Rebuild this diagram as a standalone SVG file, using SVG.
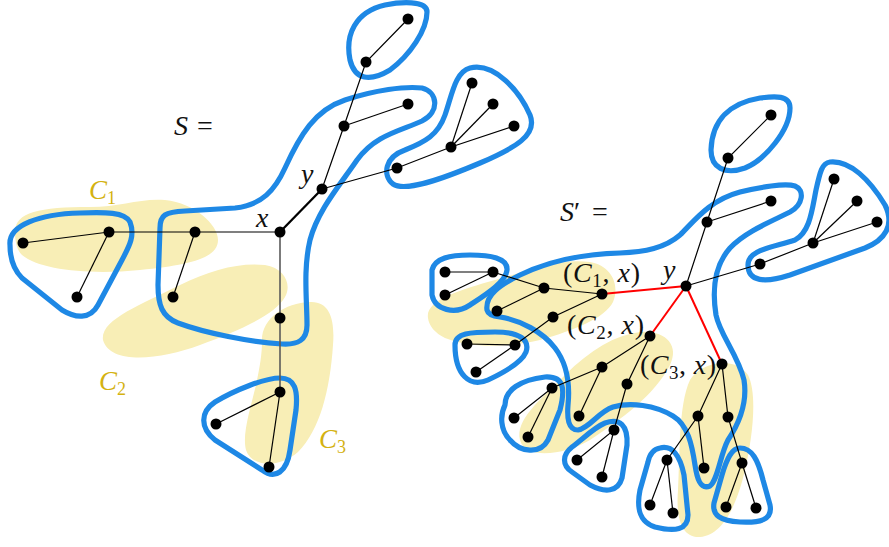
<svg xmlns="http://www.w3.org/2000/svg" width="889" height="547" viewBox="0 0 889 547">
<style>
.blob{fill:#f8eeb6;stroke:none}
.bag{fill:none;stroke:#1e88e5;stroke-width:5.2;stroke-linejoin:round}
.e{stroke:#000;stroke-width:1.2;fill:none}
.g{stroke:#5a5a5a;stroke-width:1.6;fill:none}
.t{stroke:#000;stroke-width:2.3;fill:none}
.r{stroke:#ff0000;stroke-width:2;fill:none}
.n{fill:#000}
.lab{font-family:"Liberation Serif",serif;font-size:28px;fill:#111}
.gold{font-family:"Liberation Serif",serif;font-size:27px;fill:#d4b210;font-style:italic}
</style>
<g id="blobs">
<path class="blob" d="M 15,232 C 15,212 40,207 90,207 C 120,207 140,198 165,200 C 195,203 218,225 218,240 C 218,258 190,265 140,270 C 90,275 40,270 22,255 C 17,250 15,242 15,232 Z"/>
<path class="blob" d="M 103,340 C 100,320 140,305 180,285 C 210,270 240,262 265,265 C 285,268 292,285 285,297 C 275,315 240,330 200,345 C 160,360 110,365 103,340 Z"/>
<path class="blob" d="M 262,340 C 262,318 285,303 310,302 C 330,301 335,320 333,345 C 330,390 320,430 298,452 C 280,468 252,468 246,450 C 242,435 250,410 256,385 C 260,365 262,355 262,340 Z"/>
<path class="blob" d="M 428,318 C 425,300 460,290 495,280 C 530,270 560,258 590,262 C 612,266 620,285 613,302 C 605,318 575,330 540,340 C 505,348 470,348 445,338 C 435,333 429,326 428,318 Z"/>
<path class="blob" d="M 520,440 C 515,420 540,400 565,375 C 590,350 615,335 640,332 C 665,330 680,345 670,365 C 655,395 620,420 590,440 C 565,455 525,460 520,440 Z"/>
<path class="blob" d="M 690,380 C 700,362 735,355 748,375 C 758,395 752,440 745,470 C 738,500 725,535 700,537 C 680,538 676,515 678,490 C 680,460 678,405 690,380 Z"/>
</g>
<g id="bags">
<path id="bagS1" class="bag" d="M 10,245 C 8,225 40,214 80,213 C 105,212 125,212 130,222 C 135,235 130,245 122,260 L 98,305 C 90,320 75,318 62,310 L 22,278 C 12,268 10,255 10,245 Z"/>
<path id="bagS2" class="bag" d="M 160,228 C 160,215 165,212 185,211 L 235,208 C 262,205 275,190 285,168 C 300,135 315,110 345,100 C 375,90 405,86 422,88 C 438,92 440,112 422,121 C 400,131 375,135 357,160 C 340,185 318,210 310,240 C 303,270 307,300 307,325 C 307,340 298,345 282,344 C 250,342 205,333 178,323 C 162,317 158,305 158,285 Z"/>
<path id="bagS3" class="bag" d="M 427,12 C 427,0 400,2 385,5 C 355,12 345,35 350,60 C 355,80 370,82 390,70 C 410,55 427,30 427,12 Z"/>
<path id="bagS4" class="bag" d="M 470,68 C 455,72 452,95 445,115 C 438,135 425,142 405,150 C 385,157 382,175 393,184 C 405,192 440,180 480,163 C 515,148 538,135 530,115 C 520,92 495,62 470,68 Z"/>
<path id="bagS5" class="bag" d="M 280,378 C 295,378 298,390 296,410 L 290,450 C 287,472 275,480 262,470 L 215,440 C 200,428 200,412 215,402 C 235,390 265,378 280,378 Z"/>
<path id="bagP1" class="bag" d="M 790,108 C 790,95 775,96 760,98 C 730,103 712,120 711,150 C 711,168 725,175 745,168 C 765,160 790,130 790,108 Z"/>
<path id="bagP2" class="bag" d="M 487,310 C 485,295 500,285 520,275 C 545,263 580,254 620,253 C 645,252 665,248 680,235 C 695,220 710,200 740,192 C 760,187 785,183 795,186 C 805,190 803,205 790,212 C 770,222 745,232 730,248 C 715,265 712,290 716,315 C 720,335 738,355 744,380 C 748,405 738,425 728,440 C 720,455 718,480 710,486 C 700,490 697,478 695,465 C 692,445 688,425 673,416 C 655,405 630,402 613,407 C 598,412 590,428 578,430 C 568,430 567,418 568,405 C 570,385 568,365 555,348 C 543,332 520,320 500,317 C 492,316 488,314 487,310 Z"/>
<path id="bagP3" class="bag" d="M 432,270 C 435,258 450,255 470,255 C 490,255 508,258 507,270 C 506,282 485,295 470,305 C 455,315 435,310 432,295 Z"/>
<path id="bagP4" class="bag" d="M 455,345 C 455,333 470,332 495,332 C 520,332 530,340 526,352 C 522,362 505,372 488,380 C 470,388 455,375 455,345 Z"/>
<path id="bagP5" class="bag" d="M 505,405 C 505,390 520,380 545,377 C 565,376 565,390 560,410 L 548,440 C 540,455 520,452 510,440 C 500,430 500,415 505,405 Z"/>
<path id="bagP6" class="bag" d="M 605,423 C 620,418 628,425 627,445 L 622,478 C 618,492 605,493 590,485 L 572,472 C 562,465 562,455 572,447 C 585,437 595,427 605,423 Z"/>
<path id="bagP7" class="bag" d="M 660,448 C 672,445 680,455 684,475 L 688,515 C 688,530 675,532 655,527 C 640,522 636,510 640,490 L 648,462 C 650,452 655,449 660,448 Z"/>
<path id="bagP8" class="bag" d="M 740,448 C 752,448 758,460 763,480 L 770,505 C 773,520 760,523 740,522 C 720,521 712,515 714,503 L 722,475 C 727,458 732,448 740,448 Z"/>
<path id="bagP9" class="bag" d="M 830,162 C 850,160 870,180 885,205 C 895,225 885,240 865,248 L 790,275 C 765,283 748,282 748,265 C 748,250 770,248 795,240 C 810,232 812,210 816,190 C 820,172 822,163 830,162 Z"/>
</g>
<g id="connectors">
<polyline class="e" points="23,243 109,232 280,232"/>
<line class="e" x1="109" y1="232" x2="77" y2="297"/>
<line class="e" x1="195" y1="232" x2="173" y2="297"/>
<polyline class="g" points="280,232 280,318 280,392"/>
<line class="e" x1="280" y1="392" x2="216" y2="424"/>
<line class="e" x1="280" y1="392" x2="269" y2="467"/>
<line class="t" x1="280" y1="232" x2="322" y2="189"/>
<polyline class="e" points="322,189 344,126 366,62 408,19"/>
<line class="e" x1="344" y1="126" x2="408" y2="104"/>
<polyline class="e" points="322,189 397,168 451,147 514,126"/>
<line class="e" x1="451" y1="147" x2="472" y2="83"/>
<line class="e" x1="451" y1="147" x2="493" y2="104"/>
<polyline class="e" points="686,286 707,222 728,158 771,115"/>
<line class="e" x1="707" y1="222" x2="771" y2="201"/>
<polyline class="e" points="686,286 760,264 813,243 877,222"/>
<line class="e" x1="813" y1="243" x2="834" y2="179"/>
<line class="e" x1="813" y1="243" x2="857" y2="201"/>
<line class="r" x1="686" y1="286" x2="602" y2="294"/>
<line class="r" x1="686" y1="286" x2="650" y2="336"/>
<line class="r" x1="686" y1="286" x2="722" y2="364"/>
<polyline class="e" points="602,294 544,288 493,272 445,272"/>
<line class="e" x1="493" y1="272" x2="445" y2="295"/>
<line class="e" x1="544" y1="288" x2="497" y2="311"/>
<polyline class="e" points="602,294 553,317 515,345 467,344"/>
<line class="e" x1="515" y1="345" x2="476" y2="372"/>
<polyline class="e" points="650,336 602,367 552,388 514,418"/>
<line class="e" x1="552" y1="388" x2="528" y2="437"/>
<line class="e" x1="602" y1="367" x2="579" y2="416"/>
<polyline class="e" points="650,336 627,384 614,430 577,460"/>
<line class="e" x1="614" y1="430" x2="602" y2="477"/>
<polyline class="e" points="722,364 698,416 667,460 650,505"/>
<line class="e" x1="667" y1="460" x2="673" y2="513"/>
<line class="e" x1="698" y1="416" x2="704" y2="468"/>
<polyline class="e" points="722,364 728,417 742,463 726,507"/>
<line class="e" x1="742" y1="463" x2="756" y2="508"/>
</g>
<g id="nodes">
<circle class="n" cx="23" cy="243" r="5.5"/><circle class="n" cx="109" cy="232" r="5.5"/><circle class="n" cx="77" cy="297" r="5.5"/>
<circle class="n" cx="195" cy="232" r="5.5"/><circle class="n" cx="173" cy="297" r="5.5"/>
<circle id="x" class="n" cx="280" cy="232" r="5.5"/><circle class="n" cx="280" cy="318" r="5.5"/><circle class="n" cx="280" cy="392" r="5.5"/>
<circle class="n" cx="216" cy="424" r="5.5"/><circle class="n" cx="269" cy="467" r="5.5"/>
<circle id="y" class="n" cx="322" cy="189" r="5.5"/><circle class="n" cx="344" cy="126" r="5.5"/><circle class="n" cx="408" cy="104" r="5.5"/>
<circle class="n" cx="366" cy="62" r="5.5"/><circle class="n" cx="408" cy="19" r="5.5"/>
<circle class="n" cx="397" cy="168" r="5.5"/><circle class="n" cx="451" cy="147" r="5.5"/><circle class="n" cx="472" cy="83" r="5.5"/>
<circle class="n" cx="493" cy="104" r="5.5"/><circle class="n" cx="514" cy="126" r="5.5"/>
<circle id="y2" class="n" cx="686" cy="286" r="5.5"/><circle class="n" cx="707" cy="222" r="5.5"/><circle class="n" cx="728" cy="158" r="5.5"/>
<circle class="n" cx="771" cy="115" r="5.5"/><circle class="n" cx="771" cy="201" r="5.5"/><circle class="n" cx="760" cy="264" r="5.5"/>
<circle class="n" cx="813" cy="243" r="5.5"/><circle class="n" cx="834" cy="179" r="5.5"/><circle class="n" cx="857" cy="201" r="5.5"/><circle class="n" cx="877" cy="222" r="5.5"/>
<circle class="n" cx="602" cy="294" r="5.5"/><circle class="n" cx="544" cy="288" r="5.5"/><circle class="n" cx="493" cy="272" r="5.5"/>
<circle class="n" cx="445" cy="272" r="5.5"/><circle class="n" cx="445" cy="295" r="5.5"/><circle class="n" cx="497" cy="311" r="5.5"/>
<circle class="n" cx="553" cy="317" r="5.5"/><circle class="n" cx="515" cy="345" r="5.5"/><circle class="n" cx="467" cy="344" r="5.5"/><circle class="n" cx="476" cy="372" r="5.5"/>
<circle class="n" cx="650" cy="336" r="5.5"/><circle class="n" cx="602" cy="367" r="5.5"/><circle class="n" cx="552" cy="388" r="5.5"/>
<circle class="n" cx="514" cy="418" r="5.5"/><circle class="n" cx="528" cy="437" r="5.5"/><circle class="n" cx="579" cy="416" r="5.5"/>
<circle class="n" cx="627" cy="384" r="5.5"/><circle class="n" cx="614" cy="430" r="5.5"/><circle class="n" cx="577" cy="460" r="5.5"/><circle class="n" cx="602" cy="477" r="5.5"/>
<circle class="n" cx="722" cy="364" r="5.5"/><circle class="n" cx="698" cy="416" r="5.5"/><circle class="n" cx="667" cy="460" r="5.5"/>
<circle class="n" cx="650" cy="505" r="5.5"/><circle class="n" cx="673" cy="513" r="5.5"/><circle class="n" cx="704" cy="468" r="5.5"/>
<circle class="n" cx="728" cy="417" r="5.5"/><circle class="n" cx="742" cy="463" r="5.5"/><circle class="n" cx="726" cy="507" r="5.5"/><circle class="n" cx="756" cy="508" r="5.5"/>
</g>
<g id="labels">
<text class="lab" x="174" y="135" font-size="33"><tspan font-style="italic">S</tspan><tspan x="197">=</tspan></text>
<text class="lab" x="256" y="227" font-size="30" font-style="italic">x</text>
<text class="lab" x="301" y="183" font-size="30" font-style="italic">y</text>
<text class="gold" x="89" y="199">C<tspan font-size="18" font-style="normal" dy="5">1</tspan></text>
<text class="gold" x="99" y="390">C<tspan font-size="18" font-style="normal" dy="5">2</tspan></text>
<text class="gold" x="319" y="448">C<tspan font-size="18" font-style="normal" dy="5">3</tspan></text>
<text class="lab" x="560" y="221" font-size="33"><tspan font-style="italic">S</tspan><tspan>′</tspan><tspan x="592">=</tspan></text>
<text class="lab" x="663" y="279" font-size="30" font-style="italic">y</text>
<text class="lab" x="563" y="282" textLength="77">(<tspan font-style="italic">C</tspan><tspan font-size="19" dy="5">1</tspan><tspan dy="-5">, </tspan><tspan font-style="italic">x</tspan>)</text>
<text class="lab" x="567" y="334" textLength="77">(<tspan font-style="italic">C</tspan><tspan font-size="19" dy="5">2</tspan><tspan dy="-5">, </tspan><tspan font-style="italic">x</tspan>)</text>
<text class="lab" x="640" y="374" textLength="76">(<tspan font-style="italic">C</tspan><tspan font-size="19" dy="5">3</tspan><tspan dy="-5">, </tspan><tspan font-style="italic">x</tspan>)</text>
</g>
</svg>
